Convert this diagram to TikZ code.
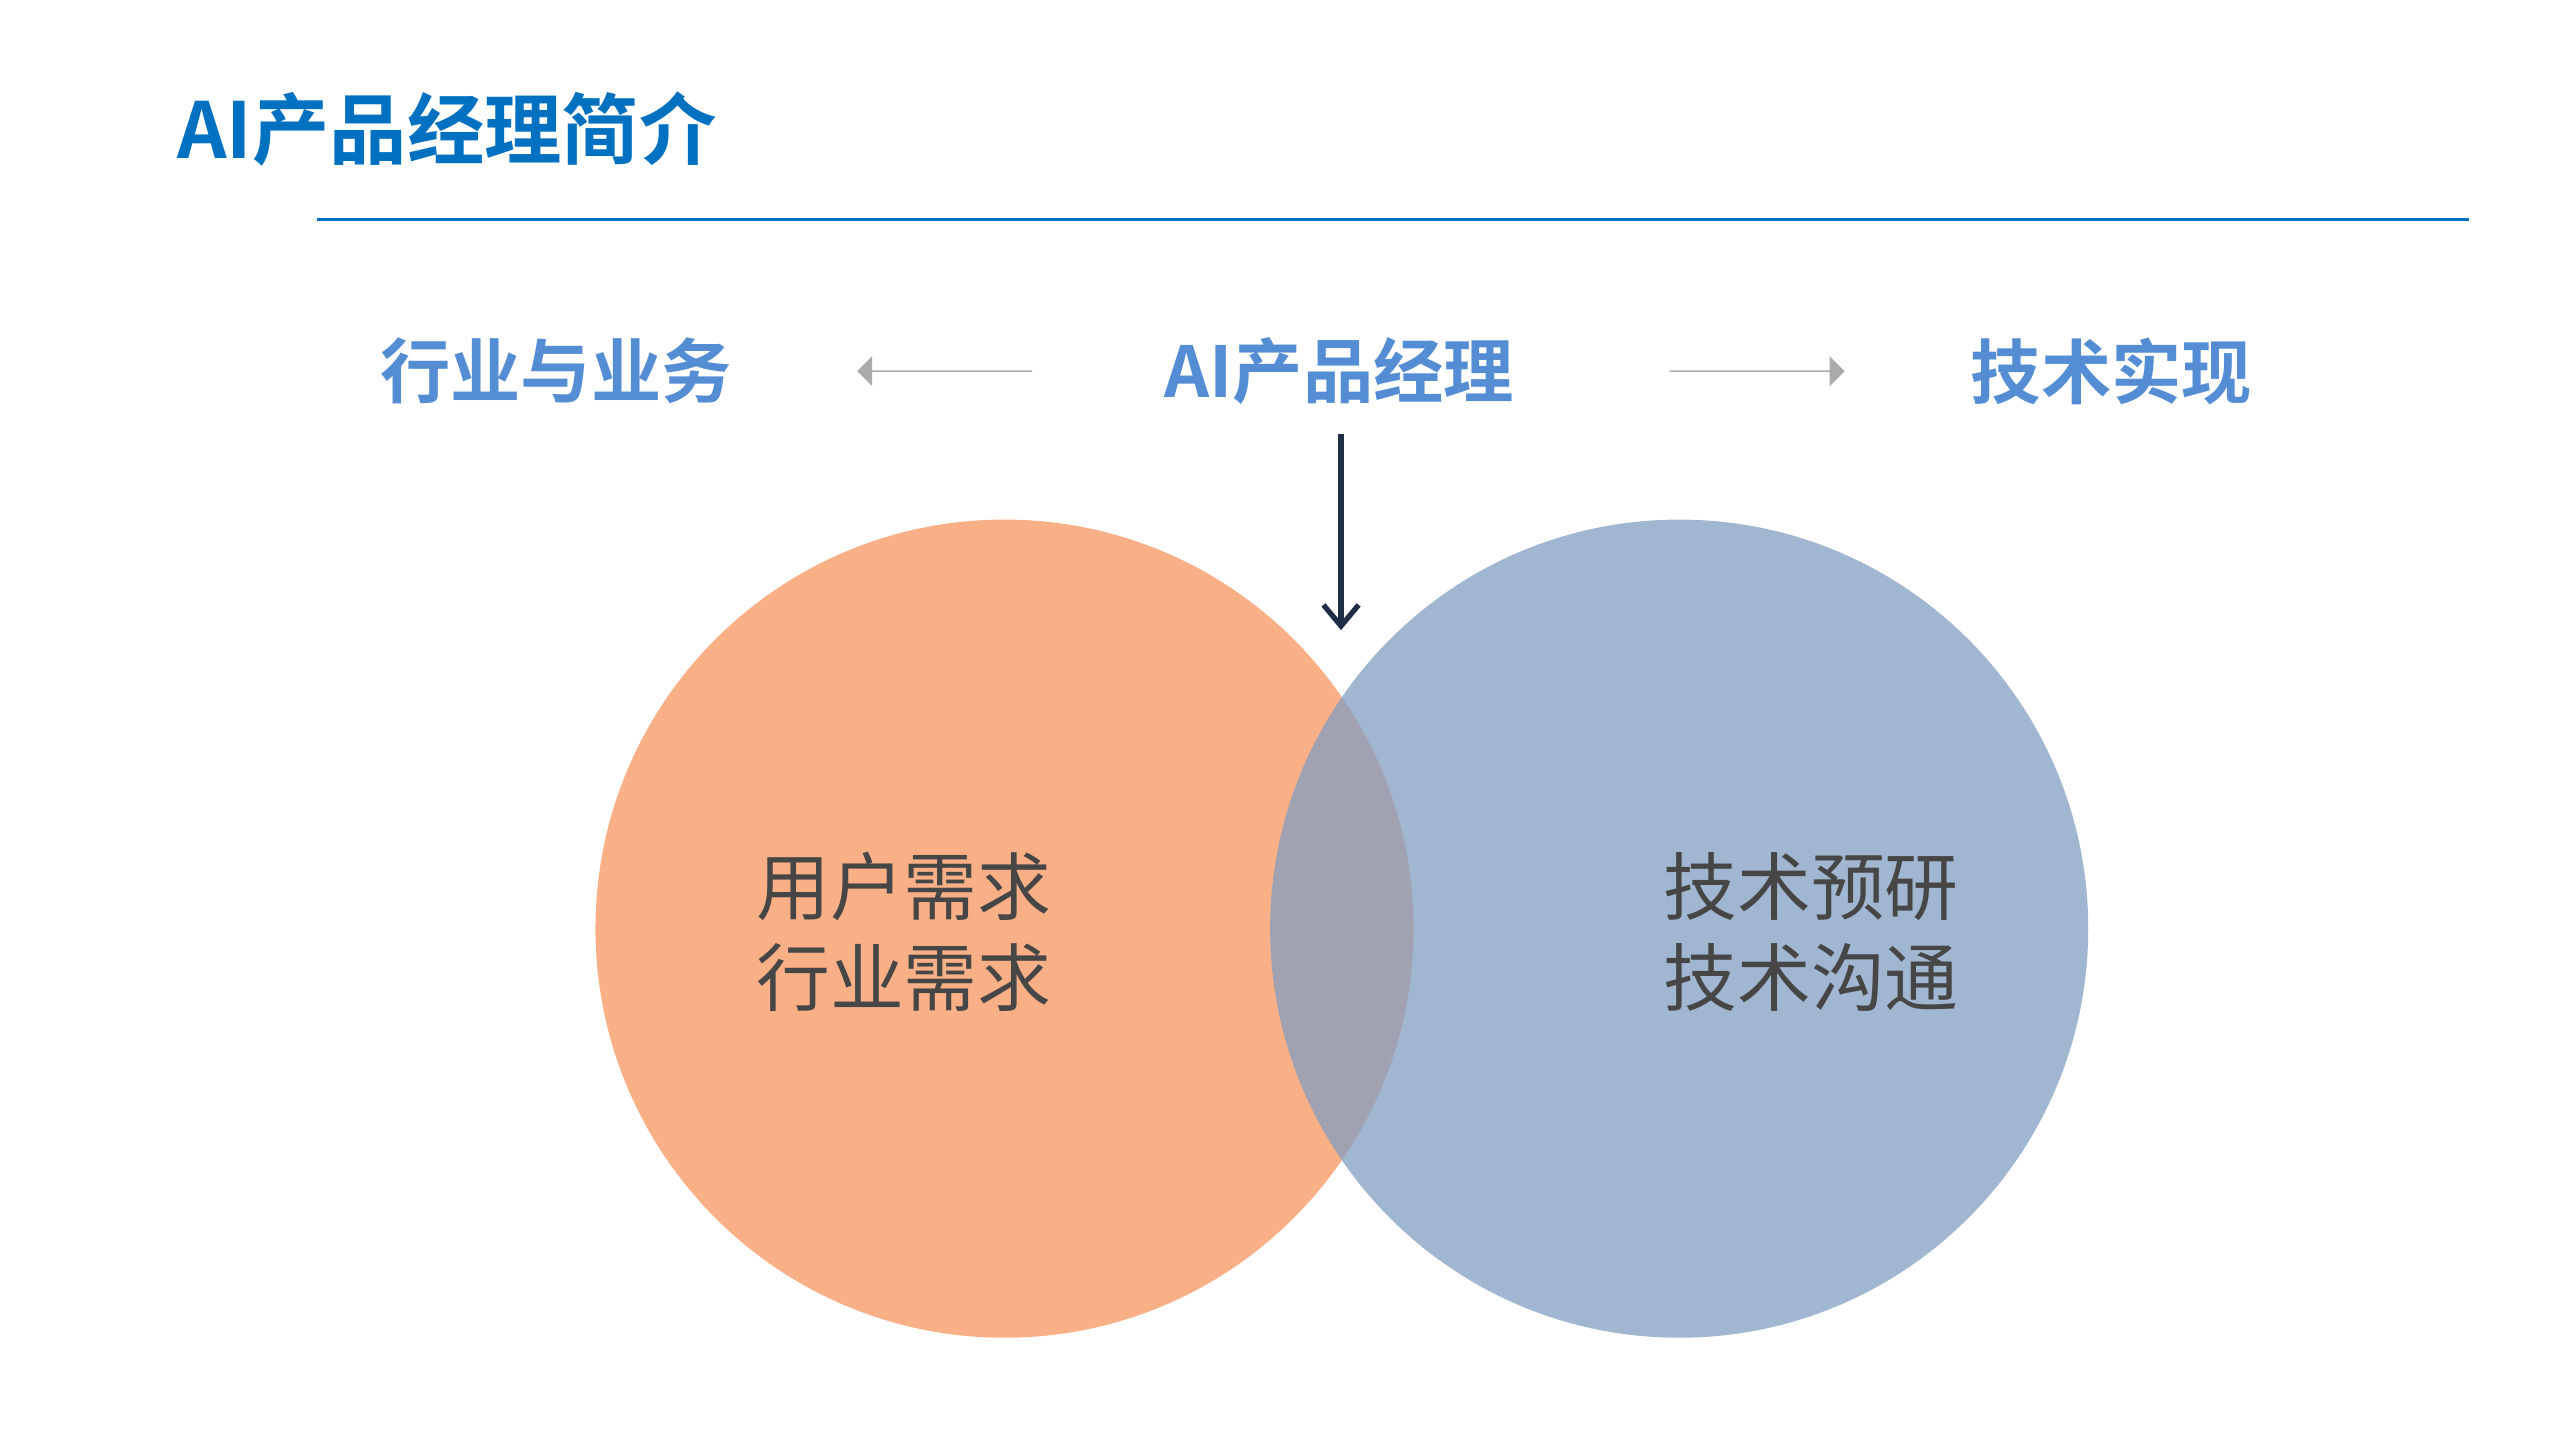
\documentclass[tikz,border=0pt]{standalone}
\usepackage{fontspec}
\setmainfont{Noto Sans CJK SC}
\newfontfamily\cjkbold{Noto Sans CJK SC Bold}
\usetikzlibrary{positioning,arrows.meta,shapes.arrows}
\definecolor{titleblue}{RGB}{0,112,192}
\definecolor{headblue}{RGB}{84,141,212}
\definecolor{orangefill}{RGB}{250,172,128}
\definecolor{bluefill}{RGB}{130,158,192}
\definecolor{textgray}{RGB}{70,70,70}
\definecolor{arrowgray}{RGB}{170,170,170}
\definecolor{navy}{RGB}{31,45,70}

\begin{document}
\begin{tikzpicture}[x=0.0165cm,y=-0.0165cm,
    heading/.style={font=\cjkbold\fontsize{20}{24}\selectfont,text=headblue},
    bigarrow/.style={single arrow,fill=arrowgray,draw=none,minimum height=1.75cm,
      single arrow head extend=0.12cm,minimum width=0.3cm,inner sep=0pt},
    circletext/.style={font=\fontsize{21}{26}\selectfont,text=textgray,align=left}]
  \useasboundingbox (0,0) rectangle (1552,882);
  % circles
  \fill[orangefill,opacity=0.95] (609,563) circle (248);
  \fill[bluefill,opacity=0.75] (1018,563) circle (248);
  % title
  \node[anchor=west,font=\cjkbold\fontsize{22}{26}\selectfont,text=titleblue] (title) at (100,78) {AI产品经理简介};
  \coordinate (rulel) at (192,133);
  \coordinate (ruler) at (1497,133);
  \draw[titleblue,line width=0.8pt] (rulel) -- (ruler);
  % headings
  \node[heading] (biz) at (337,225) {行业与业务};
  \node[heading] (pm) at (812,225) {AI产品经理};
  \node[heading] (tech) at (1280,225) {技术实现};
  \node[bigarrow,shape border rotate=180] (larr) at (573,225) {};
  \node[bigarrow] (rarr) at (1065,225) {};
  \coordinate (down) at (813,382);
  \draw[navy,line width=1.5pt,-{Straight Barb[length=6pt,width=10pt]}] (pm.south -| down) ++(0,10) -- (down);
  % contents
  \node[circletext] (user) at (548,565) {用户需求\\行业需求};
  \node[circletext] (techc) at (1098,565) {技术预研\\技术沟通};
\end{tikzpicture}
\end{document}
